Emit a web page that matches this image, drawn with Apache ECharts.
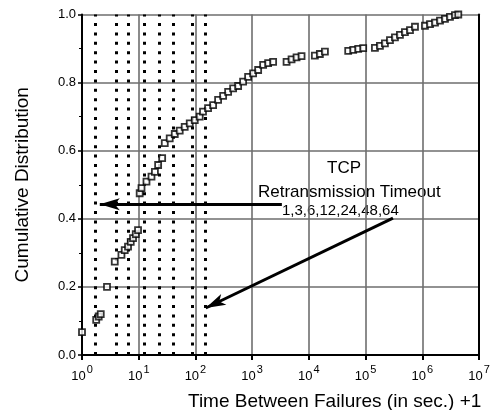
<!DOCTYPE html>
<html>
<head>
<meta charset="utf-8">
<script src="https://cdn.jsdelivr.net/npm/echarts@6/dist/echarts.min.js"></script>
<style>
  html, body { margin: 0; padding: 0; background: #fff; }
  #chart { width: 497px; height: 410px; }
</style>
</head>
<body>
<div id="chart"></div>
<script>
// time between failures (sec) + 1
const failTimes = [
    1.0, 1.78, 1.97, 2.14, 2.76, 3.78, 4.96, 5.67, 6.48, 7.23, 7.94, 8.87, 9.73,
    10.4, 11.2, 13.7, 16.8, 19.3, 22.0, 25.9,
    28.8, 35.2, 43.2, 52.8, 64.7, 79.4, 97.3, 119, 136, 167, 205, 251, 308, 377, 462, 566, 693, 849,
    1040, 1276, 1563, 1914, 2344, 4046, 4955, 6067, 7430,
    12760, 15630, 19190, 49430, 60530, 74130, 90780,
    146200, 179100, 219300, 269200, 329600, 403600, 494300, 606700, 743000,
    1114000, 1368000, 1675000, 2051000, 2512000, 3076000, 3767000, 4315000
];
const cdfValues = [
    0.067, 0.103, 0.113, 0.120, 0.200, 0.274, 0.294, 0.308, 0.318, 0.332, 0.343, 0.355, 0.367,
    0.475, 0.490, 0.509, 0.524, 0.538, 0.558, 0.578,
    0.622, 0.636, 0.649, 0.659, 0.670, 0.680, 0.690, 0.700, 0.715, 0.725, 0.734, 0.749, 0.761, 0.773, 0.783, 0.790, 0.803, 0.817,
    0.827, 0.837, 0.852, 0.857, 0.861, 0.861, 0.868, 0.874, 0.878,
    0.879, 0.884, 0.891, 0.893, 0.896, 0.899, 0.901,
    0.902, 0.908, 0.915, 0.925, 0.933, 0.940, 0.948, 0.954, 0.964,
    0.967, 0.972, 0.976, 0.982, 0.987, 0.993, 0.998, 1.0
];
// dotted verticals: TCP retransmission timeout instants
const timeoutLines = [1.74, 3.96, 6.6, 12.3, 22.7, 41, 89.6, 150];
const yTicks = [0, 0.2, 0.4, 0.6, 0.8, 1.0];
// annotation arrows: [from, to] in data units
const arrowLeft = [[3342, 0.443], [2.06, 0.443]];
const arrowDown = [[304000, 0.402], [152, 0.138]];

const FONT = 'Liberation Sans, Arial, sans-serif';

let chart = echarts.init(document.getElementById('chart'), null, { renderer: 'canvas' });

let points = failTimes.map((t, i) => [t, cdfValues[i]]);

function arrowData(a) {
    return [
        { coord: a[0], symbol: 'none' },
        { coord: a[1], symbol: 'arrow', symbolSize: [9, 20] }
    ];
}

chart.setOption({
    animation: false,
    backgroundColor: '#fff',
    grid: { left: 82, right: 18, top: 14.5, bottom: 55 },
    xAxis: {
        type: 'log',
        logBase: 10,
        min: 1,
        max: 1e7,
        splitNumber: 7,
        axisLine: { lineStyle: { color: '#000', width: 2 } },
        axisTick: { show: true, length: 5, lineStyle: { color: '#000', width: 2 } },
        splitLine: { show: true, lineStyle: { color: '#6e6e6e', width: 1.6 } },
        axisLabel: {
            margin: 9,
            color: '#000',
            formatter: v => '{b|10}{s|' + Math.round(Math.log10(v)) + '}',
            rich: {
                b: { fontSize: 13, fontFamily: FONT, color: '#000', lineHeight: 19, verticalAlign: 'bottom' },
                s: { fontSize: 11, fontFamily: FONT, color: '#000', verticalAlign: 'top', padding: [0, 0, 0, 1] }
            }
        }
    },
    yAxis: [{
        type: 'value',
        min: 0,
        max: 1,
        interval: 0.2,
        name: 'Cumulative Distribution',
        nameLocation: 'middle',
        nameGap: 50,
        nameTextStyle: { fontSize: 19, fontFamily: FONT, color: '#000' },
        axisLine: { show: true, lineStyle: { color: '#000', width: 2 } },
        axisTick: { show: true, length: 4, lineStyle: { color: '#000', width: 1.5 } },
        minorTick: { show: true, splitNumber: 2, length: 3, lineStyle: { color: '#000', width: 1 } },
        splitLine: { show: true, lineStyle: { color: '#6e6e6e', width: 1.6 } },
        axisLabel: {
            margin: 6,
            fontSize: 13,
            fontFamily: FONT,
            color: '#000',
            formatter: v => yTicks.some(t => Math.abs(t - v) < 1e-9) ? v.toFixed(1) : ''
        }
    }, {
        type: 'value',
        min: 0,
        max: 1,
        position: 'right',
        axisLine: { show: true, lineStyle: { color: '#000', width: 2 } },
        axisTick: { show: false },
        axisLabel: { show: false },
        splitLine: { show: false }
    }],
    graphic: [
        { type: 'text', left: 188, top: 392,
          style: { text: 'Time Between Failures (in sec.) +1', font: '19px ' + FONT, fill: '#000' } },
        { type: 'text', left: 327, top: 160,
          style: { text: 'TCP', font: '17px ' + FONT, fill: '#000' } },
        { type: 'text', left: 258, top: 184,
          style: { text: 'Retransmission Timeout', font: '17px ' + FONT, fill: '#000' } },
        { type: 'text', left: 282, top: 203,
          style: { text: '1,3,6,12,24,48,64', font: '15px ' + FONT, fill: '#000' } }
    ],
    series: [
        {
            type: 'line',
            data: [],
            silent: true,
            markLine: {
                silent: true,
                symbol: 'none',
                label: { show: false },
                lineStyle: { color: '#000', width: 3, type: [3, 6.4], cap: 'butt' },
                data: timeoutLines.map(x => ({ xAxis: x }))
            }
        },
        {
            type: 'scatter',
            data: points,
            symbol: 'rect',
            symbolSize: 6,
            itemStyle: { color: '#fff', borderColor: '#000', borderWidth: 1.8 },
            z: 5
        },
        {
            type: 'line',
            data: [],
            silent: true,
            z: 6,
            markLine: {
                silent: true,
                label: { show: false },
                lineStyle: { color: '#000', width: 3, type: 'solid' },
                data: [arrowData(arrowLeft), arrowData(arrowDown)]
            }
        }
    ]
});
</script>
</body>
</html>
